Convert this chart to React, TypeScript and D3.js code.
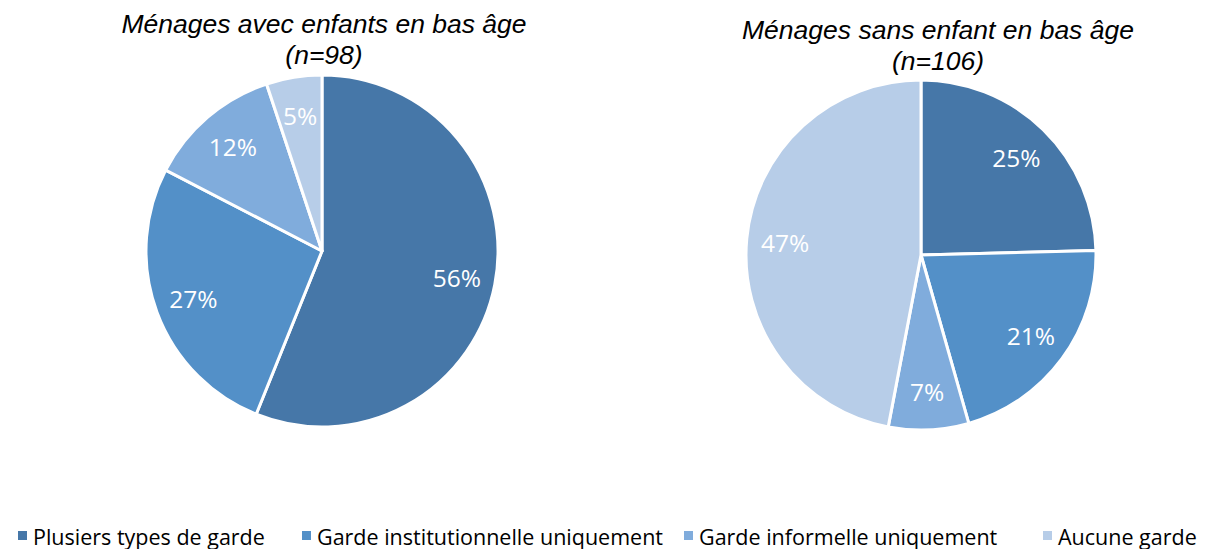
import React from "react";
import * as d3 from "d3";

const categories = [
  "Plusiers types de garde",
  "Garde institutionnelle uniquement",
  "Garde informelle uniquement",
  "Aucune garde",
];
const colors = ["#4677A8", "#5390C8", "#80ACDC", "#B7CDE8"];

const pie1Title = ["Ménages avec enfants en bas âge", "(n=98)"];
const pie1Values = [56.1, 26.5, 12.3, 5.1];
const pie1Labels = ["56%", "27%", "12%", "5%"];

const pie2Title = ["Ménages sans enfant en bas âge", "(n=106)"];
const pie2Values = [24.6, 21.0, 7.4, 47.0];
const pie2Labels = ["25%", "21%", "7%", "47%"];

const W = 1210;
const H = 549;

function Pie({ cx, cy, r, values, labels, title, titleX, titleY }: any) {
  const pie = d3.pie<number>().sort(null).value((d) => d);
  const arcs = pie(values);
  const arc = d3.arc<d3.PieArcDatum<number>>().innerRadius(0).outerRadius(r);
  const labelArc = d3
    .arc<d3.PieArcDatum<number>>()
    .innerRadius(r * 0.78)
    .outerRadius(r * 0.78);
  return (
    <g>
      <text
        x={titleX}
        y={titleY}
        textAnchor="middle"
        fontFamily="'Liberation Sans', Arial, sans-serif"
        fontStyle="italic"
        fontSize={26.5}
        fill="#000"
      >
        <tspan x={titleX} dy={0}>{title[0]}</tspan>
        <tspan x={titleX} dy={31}>{title[1]}</tspan>
      </text>
      <g transform={`translate(${cx},${cy})`}>
        {arcs.map((a, i) => (
          <path
            key={i}
            d={arc(a) || ""}
            fill={colors[i]}
            stroke="#fff"
            strokeWidth={3}
            strokeLinejoin="round"
          />
        ))}
        {arcs.map((a, i) => {
          const [x, y] = labelArc.centroid(a);
          return (
            <text
              key={"l" + i}
              x={x}
              y={y}
              textAnchor="middle"
              dominantBaseline="central"
              fontFamily="'Open Sans', Lato, sans-serif"
              fontSize={24.5}
              fill="#fff"
            >
              {labels[i]}
            </text>
          );
        })}
      </g>
    </g>
  );
}

export default function App() {
  const legendX = [18, 302, 684, 1043];
  return (
    <svg
      width={W}
      height={H}
      style={{ position: "absolute", left: 0, top: 0, background: "#fff" }}
    >
      <rect width={W} height={H} fill="#fff" />
      <Pie
        cx={322}
        cy={251}
        r={176}
        values={pie1Values}
        labels={pie1Labels}
        title={pie1Title}
        titleX={324}
        titleY={33}
      />
      <Pie
        cx={921}
        cy={255}
        r={175}
        values={pie2Values}
        labels={pie2Labels}
        title={pie2Title}
        titleX={938}
        titleY={39}
      />
      <g>
        {categories.map((c, i) => (
          <g key={c}>
            <rect
              x={legendX[i]}
              y={531}
              width={9}
              height={9}
              fill={colors[i]}
            />
            <text
              x={legendX[i] + 15}
              y={536}
              dominantBaseline="central"
              fontFamily="'Open Sans', Lato, sans-serif"
              fontSize={21.5}
              fill="#000"
            >
              {c}
            </text>
          </g>
        ))}
      </g>
    </svg>
  );
}
